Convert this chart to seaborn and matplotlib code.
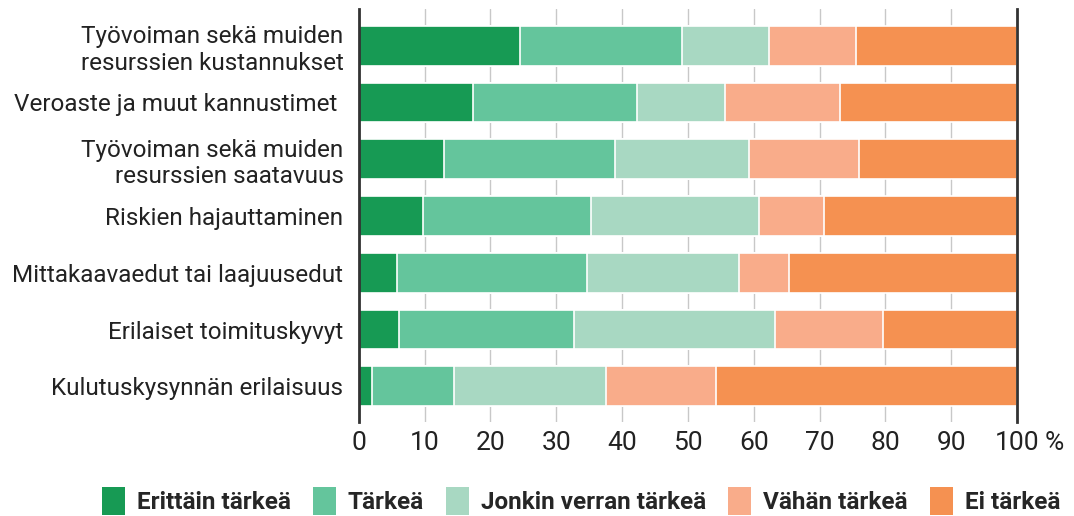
import pandas as pd
import numpy as np
import matplotlib
matplotlib.use("Agg")
import matplotlib.pyplot as plt
import seaborn as sns
from matplotlib.patches import Patch

# Data (% of respondents)
categories = [
    "Työvoiman sekä muiden\nresurssien kustannukset",
    "Veroaste ja muut kannustimet ",
    "Työvoiman sekä muiden\nresurssien saatavuus",
    "Riskien hajauttaminen",
    "Mittakaavaedut tai laajuusedut",
    "Erilaiset toimituskyvyt",
    "Kulutuskysynnän erilaisuus",
]
series = ["Erittäin tärkeä", "Tärkeä", "Jonkin verran tärkeä", "Vähän tärkeä", "Ei tärkeä"]
erittain = [24.5, 17.3, 13.0, 9.8, 5.8, 6.1, 2.0]
tarkea = [24.6, 25.0, 25.9, 25.5, 28.8, 26.6, 12.5]
jonkin = [13.2, 13.4, 20.4, 25.5, 23.1, 30.6, 23.0]
vahan = [13.2, 17.4, 16.7, 9.8, 7.7, 16.3, 16.7]
ei = [24.5, 26.9, 24.0, 29.4, 34.6, 20.4, 45.8]
colors = ["#179a54", "#64c59c", "#a8d8c2", "#f9ac8a", "#f59151"]
xticks = [0, 10, 20, 30, 40, 50, 60, 70, 80, 90, 100]

df = pd.DataFrame({"cat": categories})
for name, vals in zip(series, [erittain, tarkea, jonkin, vahan, ei]):
    df[name] = vals
cum = df[series].cumsum(axis=1)
cum["cat"] = categories

sns.set_theme(style="white")
plt.rcParams["font.family"] = ["Roboto", "DejaVu Sans"]

fig = plt.figure(figsize=(10.74, 5.16), dpi=100)
ax = fig.add_axes([0.334, 0.183, 0.613, 0.8])

# stacked bars: draw the cumulative totals from the longest to the shortest
for name, col in reversed(list(zip(series, colors))):
    sns.barplot(data=cum, x=name, y="cat", order=categories, orient="h",
                color=col, width=0.7, edgecolor="white", linewidth=1.2,
                saturation=1, ax=ax)

ax.set_xlim(0, 100)
ax.set_ylim(6.62, -0.65)
ax.set_xticks(xticks)
ax.set_xticklabels([str(t) for t in xticks], fontsize=19)
ax.set_xlabel("")
ax.set_ylabel("")
ax.grid(axis="x", color="#c8c8c8", linewidth=1)
ax.set_axisbelow(True)
ax.tick_params(axis="both", length=0, colors="#222222")
ax.tick_params(axis="y", pad=11, labelsize=17.5)
ax.tick_params(axis="x", pad=7)
for side in ["top", "bottom"]:
    ax.spines[side].set_visible(False)
for side in ["left", "right"]:
    ax.spines[side].set_visible(True)
    ax.spines[side].set_color("#333333")
    ax.spines[side].set_linewidth(2)

ax.annotate("%", xy=(100, 0), xycoords=ax.get_xaxis_transform(),
            xytext=(27, -7), textcoords="offset points",
            ha="center", va="top", fontsize=19, color="#222222")

handles = [Patch(facecolor=c, edgecolor="none") for c in colors]
fig.legend(handles, series, loc="lower center", bbox_to_anchor=(0.541, -0.04),
           ncol=5, frameon=False, handlelength=0.95, handleheight=1.4,
           handletextpad=0.5, columnspacing=0.9,
           prop={"size": 17.5, "weight": "bold"})

fig.savefig("out.png", dpi=100)
